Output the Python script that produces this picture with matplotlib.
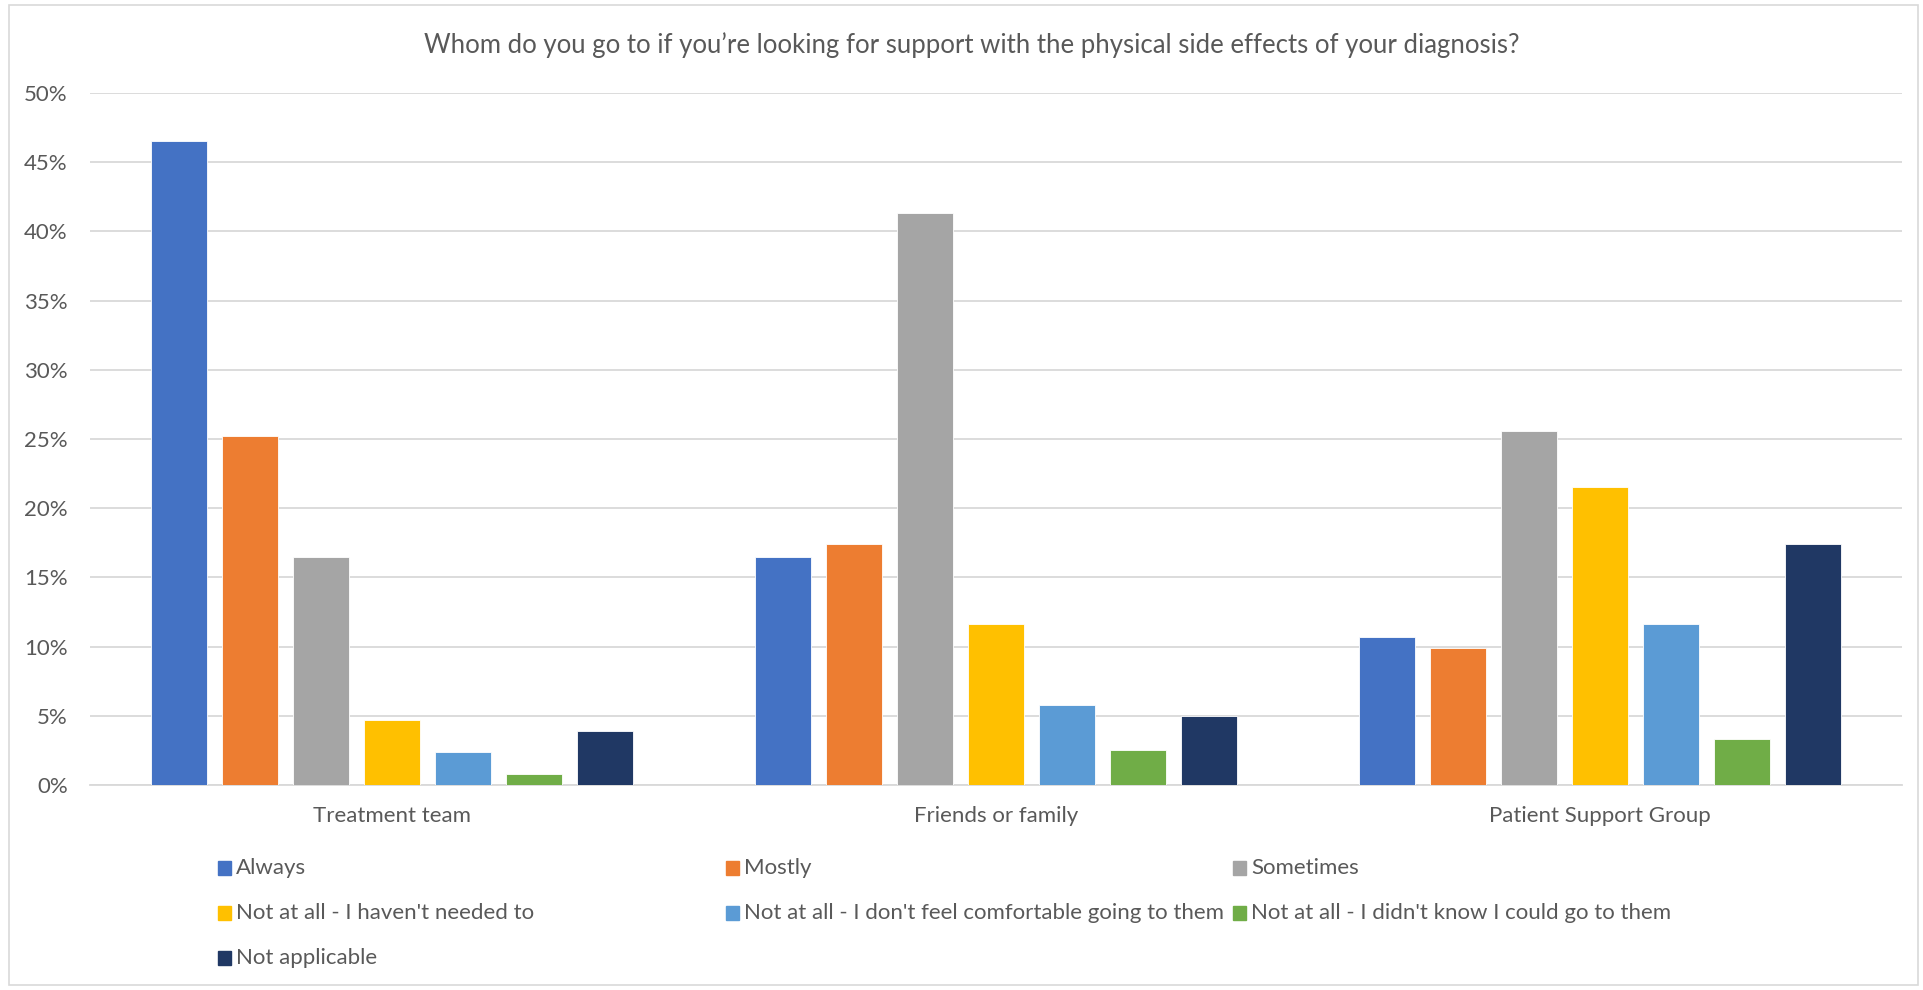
import numpy as np
import matplotlib
matplotlib.use("Agg")
import matplotlib.pyplot as plt
from matplotlib.patches import Rectangle

# data (percent of respondents)
categories = ["Treatment team", "Friends or family", "Patient Support Group"]
series = ["Always", "Mostly", "Sometimes",
          "Not at all - I haven't needed to",
          "Not at all - I don't feel comfortable going to them",
          "Not at all - I didn't know I could go to them",
          "Not applicable"]
always = [46.5, 16.5, 10.7]
mostly = [25.2, 17.4, 9.9]
sometimes = [16.5, 41.3, 25.6]
not_needed = [4.7, 11.6, 21.5]
not_comfortable = [2.4, 5.8, 11.6]
didnt_know = [0.8, 2.5, 3.3]
not_applicable = [3.9, 5.0, 17.4]
values = [always, mostly, sometimes, not_needed, not_comfortable, didnt_know, not_applicable]
colors = ["#4472C4", "#ED7D31", "#A5A5A5", "#FFC000", "#5B9BD5", "#70AD47", "#203864"]

title = "Whom do you go to if you\u2019re looking for support with the physical side effects of your diagnosis?"
yticks = [0, 5, 10, 15, 20, 25, 30, 35, 40, 45, 50]

plt.rcParams["font.family"] = ["Lato", "DejaVu Sans"]
text_col = "#595959"
grid_col = "#D9D9D9"

W, H = 1923, 990
fig = plt.figure(figsize=(W / 100, H / 100), dpi=100)

# chart frame
fig.patches.append(Rectangle((9 / W, 5 / H), 1 - 14 / W, 1 - 10 / H, transform=fig.transFigure,
                             fill=False, edgecolor=grid_col, linewidth=1.2))

ax = fig.add_axes([90 / W, 1 - 785 / H, 1812 / W, 692 / H])

x = np.arange(len(categories))
pitch = 71 / 604
width = 56 / 604
for i, (vals, c) in enumerate(zip(values, colors)):
    ax.bar(x + (i - 3) * pitch, vals, width=width, color=c, edgecolor="white",
           linewidth=0.6, zorder=3)

ax.set_xlim(-0.5, 2.5)
ax.set_ylim(0, 50)
ax.set_yticks(yticks)
ax.set_yticklabels([f"{t}%" for t in yticks])
ax.set_xticks(x)
ax.set_xticklabels(categories)
ax.yaxis.grid(True, color=grid_col, linewidth=1.3, zorder=0)
ax.tick_params(axis="both", length=0, labelsize=16, labelcolor=text_col)
ax.tick_params(axis="y", pad=16)
ax.tick_params(axis="x", pad=15)
for s in ["top", "right", "left"]:
    ax.spines[s].set_visible(False)
ax.spines["bottom"].set_color(grid_col)
ax.spines["bottom"].set_linewidth(1.3)

fig.text(972 / W, 1 - 45 / H, title, ha="center", va="center", fontsize=18.5, color=text_col)

# legend laid out row by row like the original
col_x = [218, 726, 1233]
row_y = [868, 913, 958]
for i, (name, c) in enumerate(zip(series, colors)):
    cx = col_x[i % 3]
    cy = row_y[i // 3]
    fig.patches.append(Rectangle((cx / W, 1 - (cy + 7) / H), 13 / W, 14 / H,
                                 transform=fig.transFigure, color=c))
    fig.text((cx + 18) / W, 1 - cy / H, name, ha="left", va="center",
             fontsize=16, color=text_col)

fig.savefig("out.png", dpi=100, facecolor="white")
